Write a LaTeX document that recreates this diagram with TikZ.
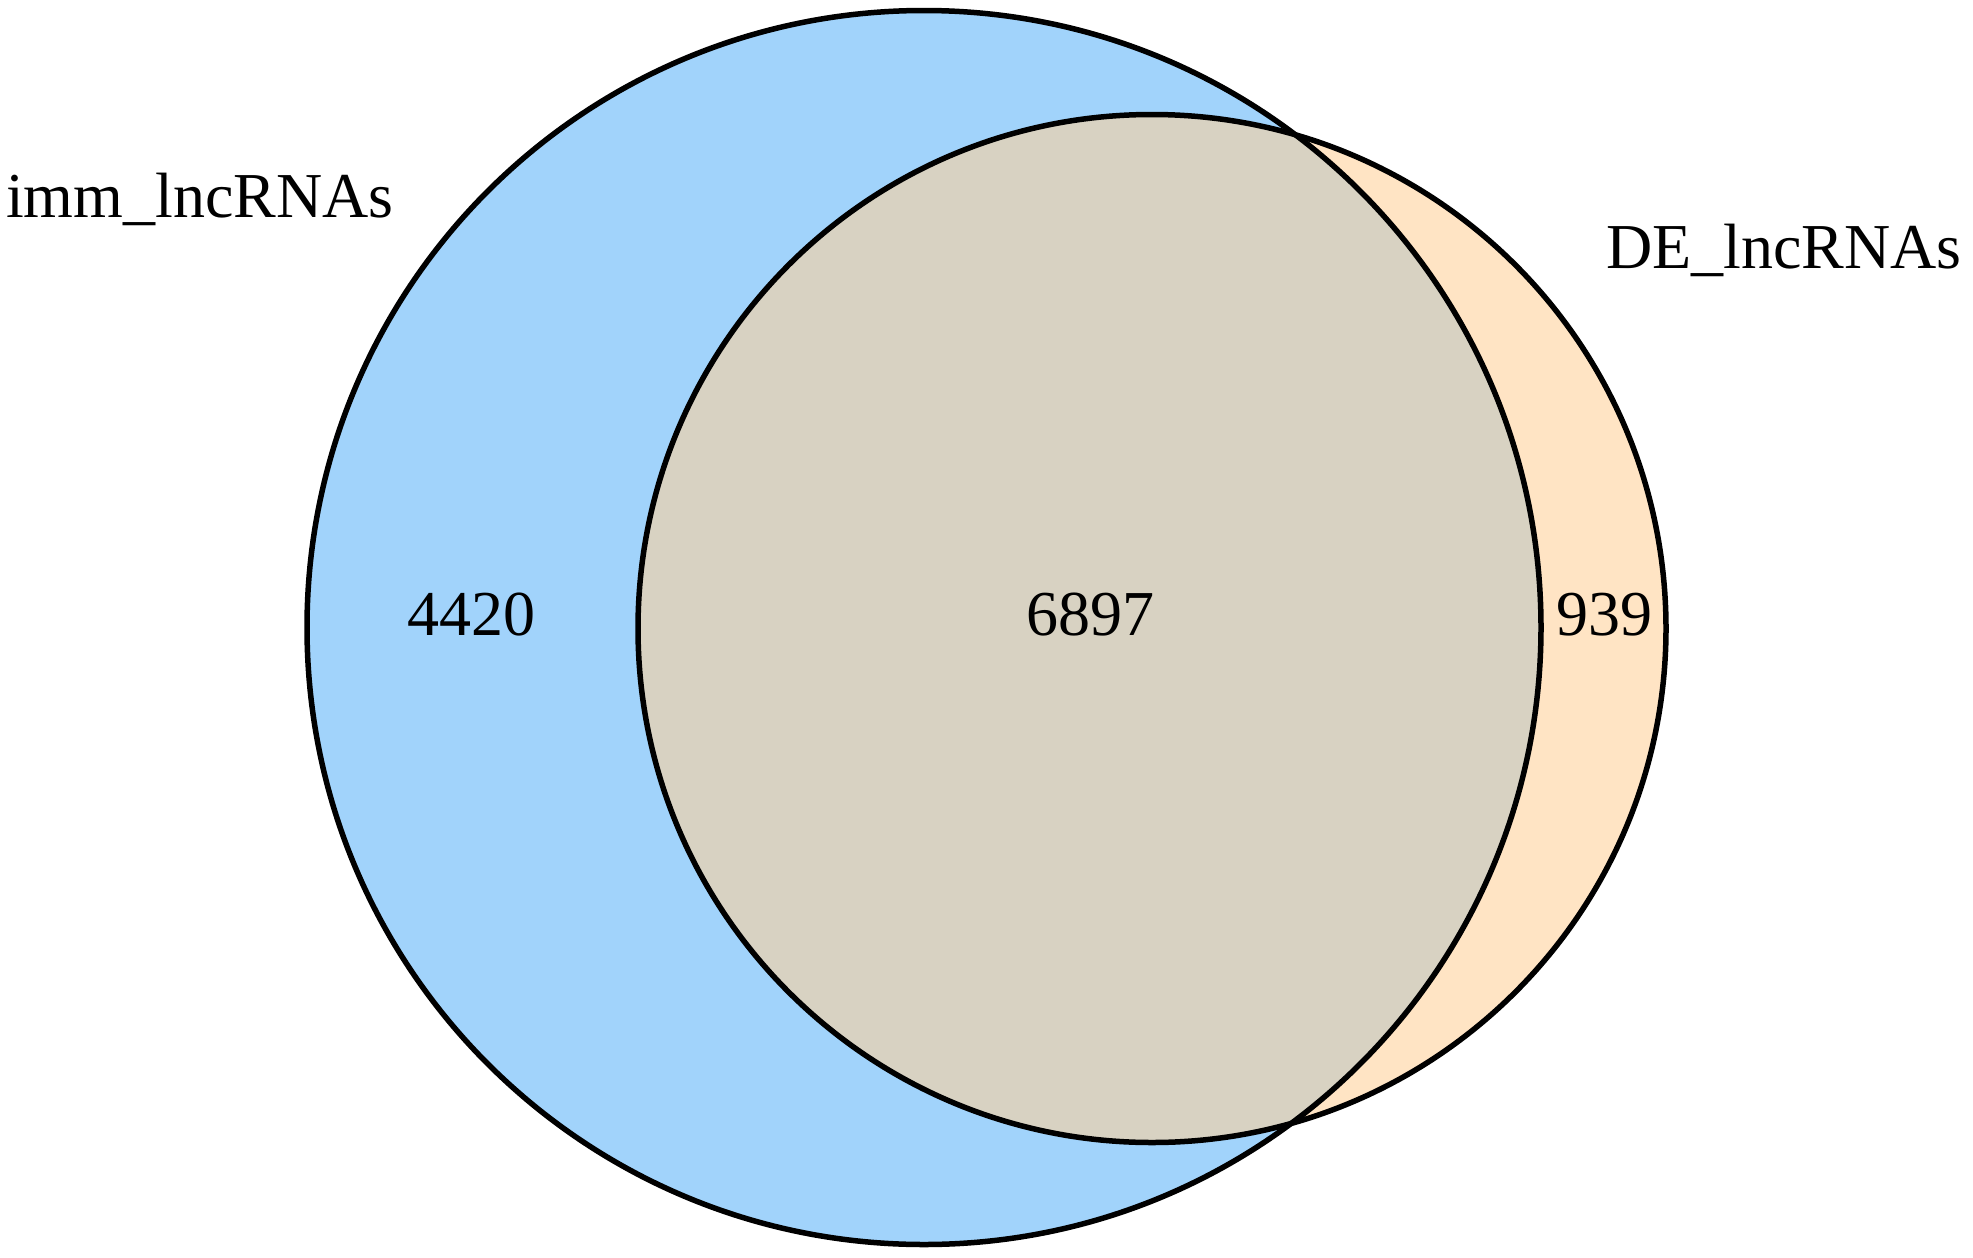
\documentclass[tikz,border=0pt]{standalone}
\usepackage{fontspec}
\setmainfont{Liberation Serif}
\definecolor{immblue}{RGB}{161,211,251}
\definecolor{depeach}{RGB}{255,228,196}
\definecolor{overlap}{RGB}{216,210,194}
\begin{document}
\begin{tikzpicture}[x=1pt,y=-1pt,
  lab/.style={inner sep=0pt,font=\fontsize{64}{77}\selectfont},
  ring/.style={draw=black,line width=5.5pt}]
\useasboundingbox (0,0) rectangle (1973,1258);
\coordinate (cA) at (924,627.5);
\coordinate (cB) at (1152,628.5);
\fill[immblue] (cA) circle[radius=617];
\fill[depeach] (cB) circle[radius=514];
\begin{scope}
\clip (cA) circle[radius=617];
\fill[overlap] (cB) circle[radius=514];
\end{scope}
\draw[ring] (cA) circle[radius=617];
\draw[ring] (cB) circle[radius=514];
\node[lab,anchor=base west] (immlab) at (6,217) {imm\_lncRNAs};
\node[lab,anchor=base west] (delab) at (1606,268) {DE\_lncRNAs};
\node[lab,anchor=base] (n1) at (471.5,635) {4420};
\node[lab,anchor=base] (n2) at (1090,635) {6897};
\node[lab,anchor=base] (n3) at (1604,635) {939};
\end{tikzpicture}
\end{document}
